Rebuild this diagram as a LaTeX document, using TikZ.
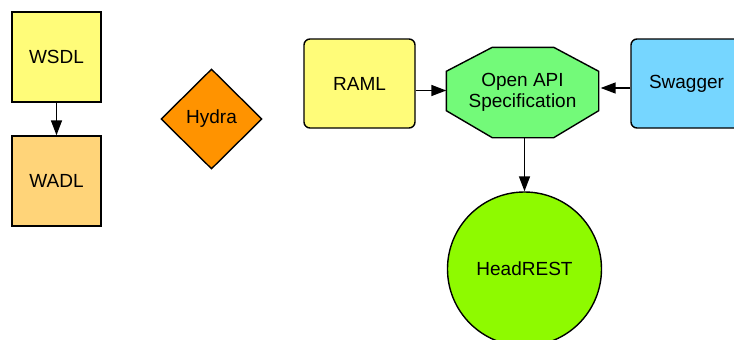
\documentclass[tikz,border=0pt]{standalone}
\usepackage{fontspec}
\setmainfont{Liberation Sans}
\usetikzlibrary{arrows.meta,shapes.geometric,backgrounds}
\definecolor{banana}{HTML}{FFFC79}
\definecolor{cantaloupe}{HTML}{FFD479}
\definecolor{tangerine}{HTML}{FF9300}
\definecolor{flora}{HTML}{73FA79}
\definecolor{sky}{HTML}{76D6FF}
\definecolor{lime}{HTML}{8EFA00}
\tikzset{
  base/.style={draw=black, line width=1.4pt, align=center, inner sep=0pt,
    font=\fontsize{19}{21}\selectfont},
  sqbox/.style={base, rectangle, minimum width=89pt, minimum height=90pt},
  rbox/.style={base, rectangle, rounded corners=6pt, minimum width=111pt, minimum height=89pt},
  arr/.style={line width=1.5pt, -{Triangle[length=15pt,width=11pt]}},
}
\begin{document}
\begin{tikzpicture}[x=1pt,y=-1pt]
\useasboundingbox (0,0) rectangle (734,340);
\clip (0,0) rectangle (734,340);

% left column
\node[sqbox, fill=banana] (wsdl) at (56.5,57) {WSDL};
\node[sqbox, fill=cantaloupe] (wadl) at (56.5,181) {WADL};
\draw[arr] (wsdl.south) -- (wadl.north);

% Hydra
\node[base, diamond, fill=tangerine, minimum width=101pt, minimum height=100pt, aspect=1] (hydra) at (211.5,119) {Hydra};

% Open API hub
\node[base, draw=none, minimum width=151pt, minimum height=89pt] (oas) at (522.5,92.5) {Open API\\Specification};
\begin{scope}[on background layer]
\draw[line width=1.4pt, fill=flora, line join=miter]
  ([yshift=-24pt]oas.north west) -- ([xshift=46pt]oas.north west)
  -- ([xshift=-45pt]oas.north east) -- ([yshift=-24pt]oas.north east)
  -- ([yshift=27pt]oas.south east) -- ([xshift=-45pt]oas.south east)
  -- ([xshift=46pt]oas.south west) -- ([yshift=27pt]oas.south west) -- cycle;
\end{scope}

\node[rbox, fill=banana] (raml) at (359.5,83.5) {RAML};
\node[rbox, fill=sky] (swagger) at (686.5,83.5) {Swagger};
\node[base, circle, fill=lime, minimum size=154pt] (headrest) at (524.5,269) {HeadREST};

\draw[arr] ([yshift=-7pt]raml.east) -- ([yshift=-7pt]raml.east -| oas.west);
\draw[arr] ([yshift=-4.5pt]swagger.west) -- ([yshift=-4.5pt,xshift=2pt]swagger.west -| oas.east);
\draw[arr] (oas.south -| headrest.north) -- (headrest.north);
\end{tikzpicture}
\end{document}
